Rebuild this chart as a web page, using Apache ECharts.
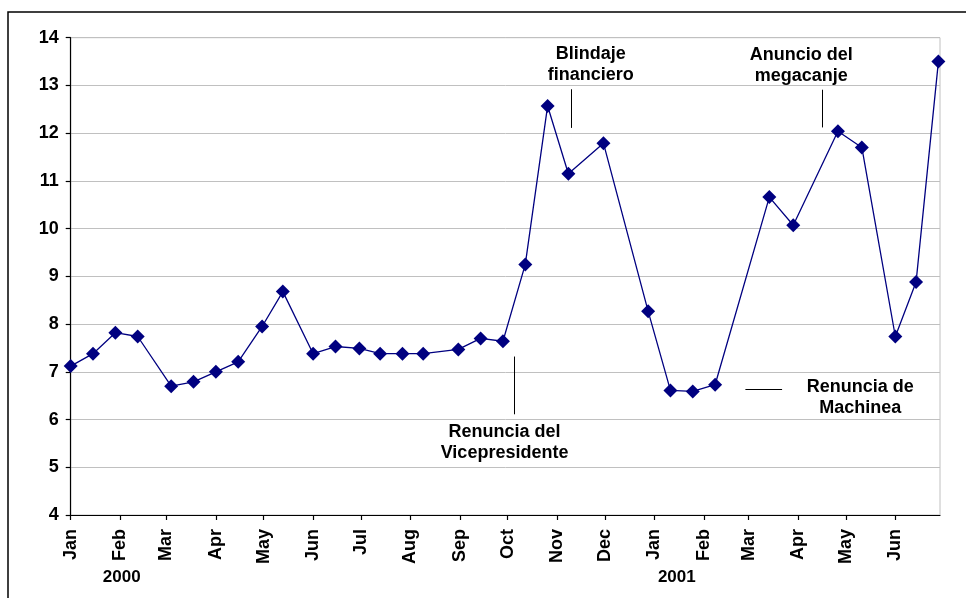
<!DOCTYPE html>
<html>
<head>
<meta charset="utf-8">
<script src="https://cdn.jsdelivr.net/npm/echarts@6/dist/echarts.min.js"></script>
<style>
html,body{margin:0;padding:0;background:#fff;}
#chart{width:966px;height:598px;}
</style>
</head>
<body>
<div id="chart"></div>
<script>
// ---- data ----
const dates = ['2000-01-01','2000-01-15','2000-01-29','2000-02-12','2000-03-04','2000-03-18','2000-04-01','2000-04-15','2000-04-30','2000-05-13','2000-06-01','2000-06-15','2000-06-30','2000-07-13','2000-07-27','2000-08-09','2000-08-31','2000-09-14','2000-09-28','2000-10-12','2000-10-26','2000-11-08','2000-11-30','2000-12-28','2001-01-11','2001-01-25','2001-02-08','2001-03-14','2001-03-29','2001-04-26','2001-05-11','2001-06-01','2001-06-14','2001-06-28'];
const values = [7.12,7.38,7.82,7.74,6.70,6.79,7.00,7.21,7.95,8.68,7.38,7.53,7.49,7.38,7.38,7.38,7.47,7.70,7.64,9.25,12.57,11.15,11.79,8.27,6.61,6.59,6.73,10.66,10.07,12.04,11.70,7.74,8.88,13.50];

const monthTicks = ['2000-01-01','2000-02-01','2000-03-01','2000-04-01','2000-05-01','2000-06-01','2000-07-01','2000-08-01','2000-09-01','2000-10-01','2000-11-01','2000-12-01','2001-01-01','2001-02-01','2001-03-01','2001-04-01','2001-05-01','2001-06-01'];
const monthLabels = ['Jan','Feb','Mar','Apr','May','Jun','Jul','Aug','Sep','Oct','Nov','Dec','Jan','Feb','Mar','Apr','May','Jun'];
const yearPositions = ['2000-02-02','2001-01-15'];
const yearLabels = ['2000','2001'];
const yTicks = [4,5,6,7,8,9,10,11,12,13,14];

// annotation leader lines: [date1, value1, date2, value2]
const annoLines = [
  ['2000-11-10', 12.92, '2000-11-10', 12.11],
  ['2001-04-16', 12.91, '2001-04-16', 12.12],
  ['2000-10-05', 7.32, '2000-10-05', 6.11],
  ['2001-02-27', 6.645, '2001-03-22', 6.645]
];
const annoTexts = ['Blindaje\nfinanciero','Anuncio del\nmegacanje','Renuncia del\nVicepresidente','Renuncia de\nMachinea'];
const annoTextDates = ['2000-11-22','2001-04-03','2000-09-29','2001-05-10'];
const annoTextValues = [13.43, 13.42, 5.52, 6.47];

const xMin = '2000-01-01';
const xMax = '2001-06-29';

// ---- helpers: days since xMin (UTC-based, timezone-proof) ----
function day(s){ const p = s.split('-').map(Number); return Math.round((Date.UTC(p[0], p[1]-1, p[2]) - Date.UTC(2000,0,1)) / 86400000); }
const tickDays = monthTicks.map(day);
const yearDays = yearPositions.map(day);
const FONT = "'Liberation Sans', Arial, sans-serif";

const chart = echarts.init(document.getElementById('chart'), null, {renderer:'canvas'});
chart.setOption({
  animation:false,
  backgroundColor:'#fff',
  graphic:[{
    type:'rect', silent:true, z:-1,
    shape:{x:8, y:12, width:1200, height:1200},
    style:{fill:'none', stroke:'#000', lineWidth:1.5}
  }],
  grid:{left:70.7, right:26, top:37.7, bottom:83, show:true, borderColor:'#c0c0c0', borderWidth:1},
  xAxis:[{
    type:'value', min:day(xMin), max:day(xMax),
    axisLine:{show:true, lineStyle:{color:'#000', width:1.2}},
    axisTick:{show:true, customValues:tickDays, length:5, inside:false, lineStyle:{color:'#000', width:1.2}},
    splitLine:{show:false},
    axisLabel:{
      customValues:tickDays, rotate:90, margin:14, color:'#000',
      fontFamily:FONT, fontSize:18, fontWeight:'bold',
      formatter:function(v){ const i = tickDays.indexOf(Math.round(+v)); return i>=0 ? monthLabels[i] : ''; }
    }
  },{
    type:'value', min:day(xMin), max:day(xMax), position:'bottom',
    axisLine:{show:false}, axisTick:{show:false}, splitLine:{show:false},
    axisLabel:{
      customValues:yearDays, margin:54, color:'#000',
      fontFamily:FONT, fontSize:17, fontWeight:'bold',
      formatter:function(v){ const i = yearDays.indexOf(Math.round(+v)); return i>=0 ? yearLabels[i] : ''; }
    }
  }],
  yAxis:{
    type:'value', min:yTicks[0], max:yTicks[yTicks.length-1], interval:1,
    axisLine:{show:true, lineStyle:{color:'#000', width:1.2}},
    axisTick:{show:true, length:5, lineStyle:{color:'#000', width:1.2}},
    splitLine:{show:true, lineStyle:{color:'#c0c0c0', width:1}},
    axisLabel:{margin:12, color:'#000', fontFamily:FONT, fontSize:18, fontWeight:'bold'}
  },
  series:[{
    type:'line',
    xAxisIndex:0,
    data:dates.map((d,i)=>[day(d), values[i]]),
    symbol:'diamond', symbolSize:14,
    itemStyle:{color:'#000080'},
    lineStyle:{color:'#000080', width:1.3},
    markLine:{
      silent:true, symbol:['none','none'],
      lineStyle:{color:'#000', width:1, type:'solid'},
      label:{show:false},
      data:annoLines.map(a=>[{coord:[day(a[0]), a[1]]},{coord:[day(a[2]), a[3]]}])
    },
    markPoint:{
      silent:true, symbol:'rect', symbolSize:1,
      itemStyle:{color:'rgba(0,0,0,0)'},
      label:{show:true, position:'inside', color:'#000', fontFamily:FONT, fontSize:18, fontWeight:'bold', lineHeight:21, align:'center', formatter:p=>p.name},
      data:annoTexts.map((t,i)=>({name:t, coord:[day(annoTextDates[i]), annoTextValues[i]]}))
    }
  }]
});
</script>
</body>
</html>
